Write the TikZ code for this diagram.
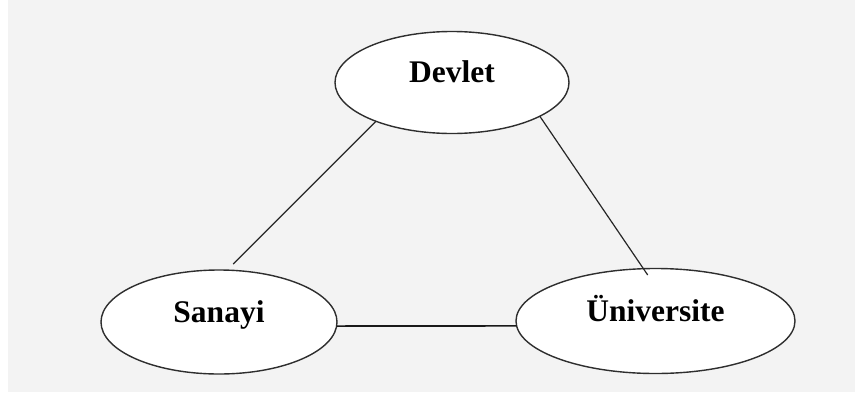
\documentclass[tikz,border=0pt]{standalone}
\usepackage{fontspec}
\setmainfont{Liberation Serif}
\usetikzlibrary{shapes.geometric}
\definecolor{bggray}{HTML}{F3F3F3}
\definecolor{edgegray}{HTML}{2E2E2E}
\tikzset{
  actor/.style={ellipse, draw=edgegray, line width=1.4pt, fill=white, inner sep=0pt, outer sep=0pt},
  actortext/.style={anchor=base, inner sep=0pt, font=\fontsize{31.5}{36}\selectfont\bfseries},
  link/.style={draw=black!85, line width=1.2pt}
}
\begin{document}
\begin{tikzpicture}[x=1pt,y=-1pt]
\useasboundingbox (0,0) rectangle (855,397);
\fill[white] (0,0) rectangle (855,397);
\fill[bggray] (8,0) rectangle (855,392);
% ellipses
\node[actor, minimum width=234pt, minimum height=102pt] (dev) at (452,82.5) {};
\node[actor, minimum width=236pt, minimum height=104pt] (san) at (219,322) {};
\node[actor, minimum width=279pt, minimum height=105pt] (uni) at (655.5,321) {};
% connectors
\draw[link, shorten >=8.5pt] (dev.207) -- (san.81);
\draw[link, shorten >=-7.6pt] (dev.339) -- (uni.103.6);
\draw[link, line width=1.7pt, draw=black!90] (san.-2) -- (uni.182);
% labels
\node[actortext] (devt) at (dev.center) {Devlet};
\node[actortext] (sant) at (san.center) {Sanayi};
\node[actortext] (unit) at (uni.center) {Üniversite};
\end{tikzpicture}
\end{document}
